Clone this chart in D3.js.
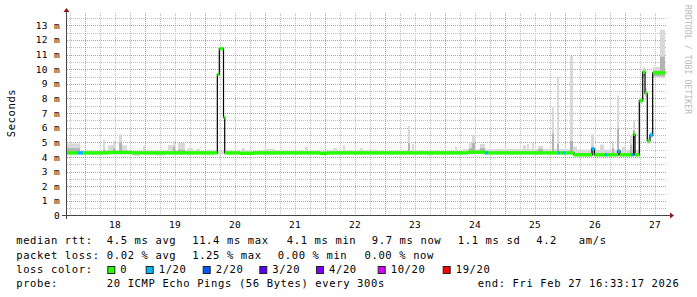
<!DOCTYPE html>
<html>
<head>
<meta charset="utf-8">
<script src="https://cdn.jsdelivr.net/npm/d3@7"></script>
<style>
  body { margin: 0; background: #fff; }
  text { font-family: "DejaVu Sans Mono", monospace; }
</style>
</head>
<body>
<svg id="chart" width="697" height="297"></svg>
<script>
// time in days of Feb (2026); window ends Fri Feb 27 16:33:17
const startT = 17.6898;
const endT = 27.6898;
const dayTicks = [18, 19, 20, 21, 22, 23, 24, 25, 26, 27];
const yTicks = [0, 1, 2, 3, 4, 5, 6, 7, 8, 9, 10, 11, 12, 13];

// median rtt (ms), step after each time; loss = index into lossColors
const medT = [17.690, 17.890, 17.973, 18.390, 18.790, 20.212, 20.245, 20.315, 20.335, 20.590,
  20.807, 21.923, 22.040, 24.390, 24.673, 24.723, 25.890, 25.923, 25.973, 26.007,
  26.157, 26.457, 26.498, 26.673, 26.707, 26.890, 26.923, 27.107, 27.148, 27.173,
  27.245, 27.302, 27.340, 27.378, 27.423, 27.468];
const medV = [4.28, 4.28, 4.28, 4.31, 4.28, 9.64, 11.40, 6.70, 4.28, 4.25,
  4.28, 4.25, 4.28, 4.33, 4.28, 4.28, 4.28, 4.28, 4.28, 4.28,
  4.15, 4.55, 4.15, 4.15, 4.15, 4.40, 4.15, 4.15, 5.55, 4.15,
  7.85, 9.80, 8.35, 5.10, 5.50, 9.75];
const medLoss = [0, 1, 0, 0, 0, 0, 0, 0, 0, 0,
  0, 0, 0, 0, 1, 0, 1, 0, 1, 0,
  0, 1, 0, 1, 0, 1, 0, 1, 0, 0,
  0, 0, 0, 0, 1, 0];

// smoke: spread of the 20 pings (ms) -> [from, to, low, high, inner high]
const smokeBase = [
  [17.690, 24.300, 4.18, 4.42, null],
  [24.300, 26.157, 4.18, 4.55, null],
  [26.157, 27.240, 4.05, 4.50, null]
];
const smokeBars = [
  [17.707, 17.923, 4.20, 4.93, 4.60],
  [18.307, 18.340, 4.20, 5.20, 4.50],
  [18.390, 18.473, 4.20, 4.80, null],
  [18.473, 18.507, 4.20, 5.10, 4.60],
  [18.573, 18.623, 4.20, 5.55, 5.00],
  [18.623, 18.707, 4.20, 4.80, null],
  [18.807, 18.923, 4.08, 4.40, null],
  [18.973, 19.007, 4.20, 4.75, null],
  [19.173, 19.340, 4.10, 4.40, null],
  [19.390, 19.473, 4.20, 4.80, null],
  [19.473, 19.507, 4.20, 5.10, 4.70],
  [19.557, 19.673, 4.20, 4.95, 4.50],
  [19.707, 19.807, 4.20, 4.60, null],
  [19.857, 19.923, 4.20, 4.55, null],
  [20.623, 20.673, 4.20, 4.60, null],
  [20.973, 21.173, 4.15, 4.55, null],
  [21.673, 21.723, 4.20, 4.70, null],
  [22.140, 22.207, 4.20, 4.60, null],
  [22.307, 22.340, 4.20, 4.80, null],
  [22.590, 22.640, 4.20, 4.60, null],
  [22.757, 22.890, 4.20, 4.50, null],
  [23.390, 23.423, 4.20, 6.10, 4.95],
  [23.457, 23.490, 4.20, 4.90, null],
  [23.707, 23.807, 4.10, 4.40, null],
  [24.173, 24.207, 4.20, 4.70, null],
  [24.407, 24.457, 4.20, 5.00, 4.60],
  [24.457, 24.507, 4.20, 5.50, 4.95],
  [24.590, 24.673, 4.20, 4.90, 4.60],
  [25.307, 25.357, 4.20, 4.80, null],
  [25.373, 25.407, 4.20, 4.90, null],
  [25.457, 25.490, 4.20, 4.95, null],
  [25.557, 25.640, 4.20, 4.75, 4.55],
  [25.790, 25.823, 4.20, 7.40, 5.60],
  [25.873, 25.907, 4.20, 9.50, 4.90],
  [26.090, 26.140, 4.20, 10.90, 5.10],
  [26.140, 26.207, 4.10, 4.70, null],
  [26.440, 26.490, 4.10, 5.55, 4.70],
  [26.590, 26.657, 4.10, 4.85, null],
  [26.790, 26.823, 4.10, 5.10, 4.60],
  [26.873, 26.907, 4.10, 8.20, 5.95],
  [26.957, 27.007, 4.10, 4.70, null],
  [27.090, 27.123, 4.10, 5.50, 4.80],
  [27.140, 27.173, 5.30, 6.50, 5.80],
  [27.240, 27.302, 7.60, 8.10, null],
  [27.302, 27.340, 9.50, 10.15, 9.90],
  [27.340, 27.373, 8.10, 8.70, null],
  [27.373, 27.423, 4.90, 5.30, null],
  [27.423, 27.473, 5.30, 5.70, null],
  [27.473, 27.590, 9.50, 10.15, 9.90],
  [27.590, 27.673, 9.50, 12.70, 10.85]
];

const lossLabels = ["0", "1/20", "2/20", "3/20", "4/20", "10/20", "19/20"];
const lossColors = ["#26ff00", "#00b8ff", "#0059ff", "#5e00ff", "#7e00ff", "#dd00ff", "#ff0000"];

const rttStats = ["median rtt:", "4.5 ms avg", "11.4 ms max", "4.1 ms min", "9.7 ms now", "1.1 ms sd", "4.2", "am/s"];
const lossStats = ["packet loss:", "0.02 % avg", "1.25 % max", "0.00 % min", "0.00 % now"];
const probeText = ["probe:", "20 ICMP Echo Pings (56 Bytes) every 300s", "end: Fri Feb 27 16:33:17 2026"];

// ---- layout ----
const svg = d3.select("#chart");
const x = d3.scaleLinear().domain([startT, endT]).range([66, 666]);
const y = d3.scaleLinear().domain([0, 13]).range([215.5, 25.3]);
const yTop = y.invert(13);
const crisp = v => Math.round(v) + 0.5;

const minorCol = "#c0c0c0";
const majorCol = "#e04848";

// grid
const grid = svg.append("g");
const minorH = d3.range(0.5, yTop, 1);
const majorH = yTicks.filter(v => v > 0);
const quarters = d3.range(17.75, endT, 0.25).filter(d => d % 1 !== 0);

grid.selectAll("line.vmin").data(quarters).join("line").attr("class", "vmin")
  .attr("x1", d => crisp(x(d))).attr("x2", d => crisp(x(d)))
  .attr("y1", 13).attr("y2", 215)
  .attr("stroke", minorCol).attr("stroke-dasharray", "1 1");
grid.selectAll("line.hmin").data(minorH).join("line").attr("class", "hmin")
  .attr("x1", 67).attr("x2", 666)
  .attr("y1", d => crisp(y(d))).attr("y2", d => crisp(y(d)))
  .attr("stroke", minorCol).attr("stroke-dasharray", "1 1");
grid.selectAll("line.vmaj").data(dayTicks).join("line").attr("class", "vmaj")
  .attr("x1", d => crisp(x(d))).attr("x2", d => crisp(x(d)))
  .attr("y1", 13).attr("y2", 215)
  .attr("stroke", majorCol).attr("stroke-opacity", 0.65).attr("stroke-dasharray", "1 1");
grid.selectAll("line.hmaj").data(majorH).join("line").attr("class", "hmaj")
  .attr("x1", 67).attr("x2", 666)
  .attr("y1", d => crisp(y(d))).attr("y2", d => crisp(y(d)))
  .attr("stroke", majorCol).attr("stroke-opacity", 0.65).attr("stroke-dasharray", "1 1");

// smoke
const smoke = svg.append("g");
smoke.selectAll("rect.base").data(smokeBase.concat(smokeBars)).join("rect").attr("class", "base")
  .attr("x", d => x(d[0])).attr("width", d => x(d[1]) - x(d[0]))
  .attr("y", d => y(d[3])).attr("height", d => y(d[2]) - y(d[3]))
  .attr("fill", "#d9d9d9");
smoke.selectAll("rect.inner").data(smokeBars.filter(d => d[4] !== null)).join("rect").attr("class", "inner")
  .attr("x", d => x(d[0])).attr("width", d => x(d[1]) - x(d[0]))
  .attr("y", d => y(d[4])).attr("height", d => y(d[2]) - y(d[4]))
  .attr("fill", "#b3b3b3");

// median: black step line, loss coloured bands on top
const medPts = medT.map((t, i) => [t, medV[i]]);
medPts.push([endT - 0.0102, medV[medV.length - 1]]);
svg.append("path")
  .attr("d", d3.line().x(d => x(d[0])).y(d => y(d[1])).curve(d3.curveStepAfter)(medPts))
  .attr("fill", "none").attr("stroke", "#000").attr("stroke-width", 1.2);

svg.append("g").selectAll("rect").data(medT).join("rect")
  .attr("x", (t, i) => x(t))
  .attr("width", (t, i) => x(i < medT.length - 1 ? medT[i + 1] : endT - 0.0102) - x(t))
  .attr("y", (t, i) => y(medV[i]) - 1.7).attr("height", 3.4)
  .attr("fill", (t, i) => lossColors[medLoss[i]]);

// axes
const xAxis = svg.append("g").attr("transform", "translate(0,215.5)")
  .call(d3.axisBottom(x).tickValues(dayTicks.map(d => d + 0.5))
    .tickFormat(d => Math.floor(d)).tickSize(0).tickPadding(5.4))
  .call(g => g.select(".domain").remove());
xAxis.selectAll("text").attr("font-family", "DejaVu Sans Mono").attr("font-size", 9.5)
  .attr("letter-spacing", 0.3).attr("fill", "#000");

const yAxis = svg.append("g").attr("transform", "translate(66.5,0)")
  .call(d3.axisLeft(y).tickValues(yTicks)
    .tickFormat(d => d === 0 ? "0" : d + " m").tickSize(0).tickPadding(6.3))
  .call(g => g.select(".domain").remove());
yAxis.selectAll("text").attr("font-family", "DejaVu Sans Mono").attr("font-size", 9.5)
  .attr("letter-spacing", 0.4).attr("fill", "#000");

// axis lines and arrows
svg.append("line").attr("x1", 62).attr("x2", 670).attr("y1", 215.5).attr("y2", 215.5)
  .attr("stroke", "#444");
svg.append("line").attr("x1", 66.5).attr("x2", 66.5).attr("y1", 219).attr("y2", 11)
  .attr("stroke", "#444");
svg.append("path").attr("d", "M670,212.5 L674,215.5 L670,218.5 Z").attr("fill", "#8b1a1a");
svg.append("path").attr("d", "M63.5,12 L66.5,8 L69.5,12 Z").attr("fill", "#8b1a1a");

// titles
svg.append("text").attr("transform", "translate(14.5,113) rotate(-90)")
  .attr("text-anchor", "middle").attr("font-size", 10.5).attr("letter-spacing", 0.6)
  .attr("fill", "#000").text("Seconds");
svg.append("text").attr("transform", "translate(684.5,5) rotate(90)")
  .attr("font-size", 8).attr("letter-spacing", 0.15)
  .attr("fill", "#b8b8b8").text("RRDTOOL / TOBI OETIKER");

// legend
const legend = svg.append("g").attr("font-size", 10.5).attr("letter-spacing", 0.63).attr("fill", "#000");
const rttX = [16.2, 106.8, 192.2, 286.8, 371.8, 457.8, 536.2, 578.8];
const lossX = [16.2, 106.8, 192.2, 277.8, 364.5];
const probeX = [16.2, 106.8, 477.8];
const swatchX = [107.3, 145.7, 202.7, 259.3, 316, 377.7, 442.7];

legend.selectAll("text.rtt").data(rttStats).join("text").attr("class", "rtt")
  .attr("x", (d, i) => rttX[i]).attr("y", 244.3).text(d => d);
legend.selectAll("text.loss").data(lossStats).join("text").attr("class", "loss")
  .attr("x", (d, i) => lossX[i]).attr("y", 258.7).text(d => d);
legend.append("text").attr("x", 16.2).attr("y", 273).text("loss color:");
legend.selectAll("rect.sw").data(lossColors).join("rect").attr("class", "sw")
  .attr("x", (d, i) => swatchX[i] + 0.5).attr("y", 266.5).attr("width", 7).attr("height", 7)
  .attr("fill", d => d).attr("stroke", "#222").attr("stroke-width", 1);
legend.selectAll("text.lc").data(lossLabels).join("text").attr("class", "lc")
  .attr("x", (d, i) => swatchX[i] + 13).attr("y", 273).text(d => d);
legend.selectAll("text.probe").data(probeText).join("text").attr("class", "probe")
  .attr("x", (d, i) => probeX[i]).attr("y", 287.3).text(d => d);
</script>
</body>
</html>
